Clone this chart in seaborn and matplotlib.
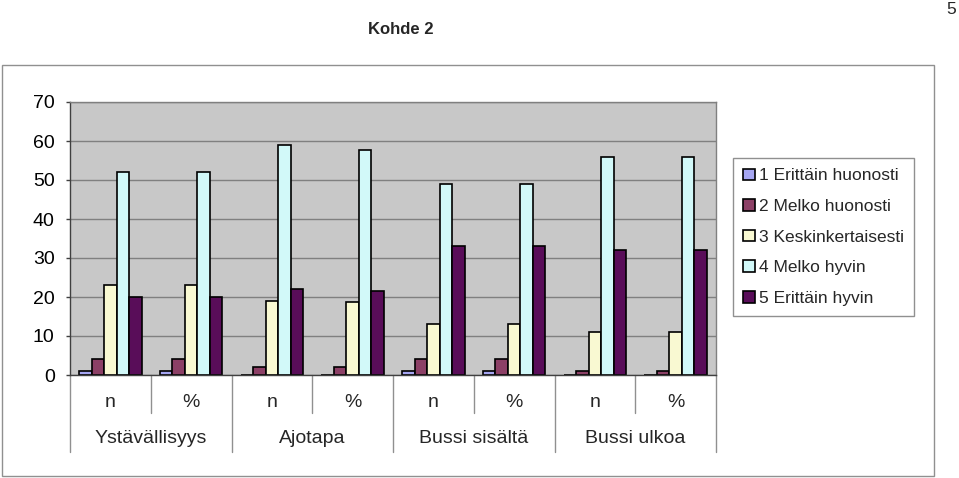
import matplotlib
matplotlib.use("Agg")
import matplotlib.pyplot as plt
import seaborn as sns
import pandas as pd
from matplotlib.lines import Line2D
from matplotlib.patches import Rectangle

groups = ["Ystävällisyys", "Ajotapa", "Bussi sisältä", "Bussi ulkoa"]
subs = ["n", "%"]
series_names = ["1 Erittäin huonosti", "2 Melko huonosti", "3 Keskinkertaisesti",
                "4 Melko hyvin", "5 Erittäin hyvin"]
s1 = [1, 1, 0, 0, 1, 1, 0, 0]
s2 = [4, 4, 2, 2, 4, 4, 1, 1]
s3 = [23, 23, 19, 18.6, 13, 13, 11, 11]
s4 = [52, 52, 59, 57.8, 49, 49, 56, 56]
s5 = [20, 20, 22, 21.6, 33, 33, 32, 32]
colors = ["#9999FF", "#993366", "#FFFFCC", "#CCFFFF", "#660066"]

cats = [f"{g} {s}" for g in groups for s in subs]
rows = []
for name, vals in zip(series_names, [s1, s2, s3, s4, s5]):
    for c, v in zip(cats, vals):
        rows.append({"cat": c, "series": name, "value": v})
df = pd.DataFrame(rows)

sns.set_theme(style="white")
plt.rcParams["font.family"] = ["Liberation Sans", "DejaVu Sans"]

fig = plt.figure(figsize=(9.59, 4.78), dpi=100)
ax = fig.add_axes([70/959, 1-375/478, (716-70)/959, (375-102)/478])
ax.set_facecolor("#C8C8C8")

sns.barplot(data=df, x="cat", y="value", hue="series", order=cats,
            hue_order=series_names, palette=colors, width=0.775,
            edgecolor="black", linewidth=1.2, ax=ax, legend=True)

ax.set_ylim(0, 70)
ax.set_xlim(-0.5, 7.5)
ax.set_yticks(range(0, 71, 10))
ax.yaxis.grid(True, color="#808080", linewidth=1)
ax.set_axisbelow(True)
ax.tick_params(axis="y", left=True, length=3, width=1, color="#404040",
               labelsize=14, pad=8, labelcolor="black")
ax.tick_params(axis="x", bottom=False, labelbottom=False)
ax.set_xlabel("")
ax.set_ylabel("")
for side in ["top", "right"]:
    ax.spines[side].set_color("#808080")
    ax.spines[side].set_linewidth(1)
for side in ["left", "bottom"]:
    ax.spines[side].set_color("#404040")
    ax.spines[side].set_linewidth(1)

# two-level category axis
xt = ax.get_xaxis_transform()
for i in range(len(cats) + 1):
    x = i - 0.5
    depth = -0.282 if i % 2 == 0 else -0.139
    ax.add_line(Line2D([x, x], [0, depth], transform=xt, color="#909090",
                       linewidth=1, clip_on=False))
for i, c in enumerate(cats):
    ax.text(i, -0.099, subs[i % 2], transform=xt, ha="center", va="center",
            fontsize=14)
for j, g in enumerate(groups):
    ax.text(2*j + 0.5, -0.234, g, transform=xt, ha="center", va="center",
            fontsize=14)

handles, labels = ax.get_legend_handles_labels()
ax.get_legend().remove()
leg = fig.legend(handles, labels, loc="upper left",
                 bbox_to_anchor=(733/959, 1-158/478), fontsize=12.5,
                 frameon=True, fancybox=False, edgecolor="#909090",
                 framealpha=1, handlelength=0.65, handleheight=0.65,
                 handletextpad=0.25, labelspacing=0.9, borderpad=0.6,
                 borderaxespad=0)
leg.get_frame().set_linewidth(1)

fig.text(401/959, 1-30/478, "Kohde 2", ha="center", va="center",
         fontsize=12, fontweight="bold")
fig.text(951/959, 1-9/478, "5", ha="center", va="center", fontsize=12.5)

fig.add_artist(Rectangle((2/959, 1-476/478), (934-2)/959, (476-65)/478,
                         transform=fig.transFigure, fill=False,
                         edgecolor="#909090", linewidth=1))

fig.savefig("out.png", dpi=100, facecolor="white")
